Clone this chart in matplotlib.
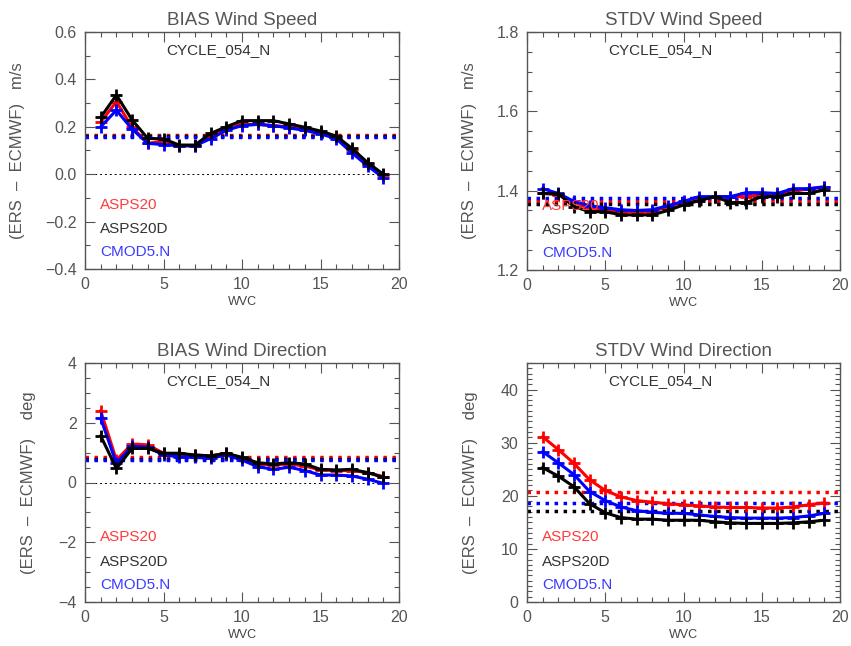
import matplotlib
matplotlib.use("Agg")
import matplotlib.pyplot as plt
from matplotlib.ticker import MultipleLocator

plt.rcParams['font.family'] = ['Liberation Sans', 'DejaVu Sans']

wvc = list(range(1, 20))
names = ["ASPS20", "ASPS20D", "CMOD5.N"]

# BIAS wind speed (m/s)
bias_spd_red = [0.22, 0.306, 0.198, 0.13, 0.14, 0.12, 0.12, 0.16, 0.19, 0.21, 0.21, 0.205,
                0.20, 0.19, 0.175, 0.155, 0.10, 0.045, -0.005]
bias_spd_blk = [0.24, 0.334, 0.229, 0.151, 0.149, 0.123, 0.123, 0.172, 0.20, 0.226, 0.226, 0.226,
                0.212, 0.198, 0.182, 0.161, 0.109, 0.049, 0.0]
bias_spd_blu = [0.20, 0.27, 0.19, 0.13, 0.125, 0.12, 0.12, 0.15, 0.185, 0.205, 0.21, 0.205,
                0.195, 0.185, 0.17, 0.15, 0.09, 0.035, -0.015]
bias_spd_mean = [0.165, 0.16, 0.158]

# STDV wind speed (m/s)
stdv_spd_red = [1.393, 1.39, 1.37, 1.355, 1.35, 1.347, 1.347, 1.347, 1.36, 1.37, 1.378, 1.385,
                1.385, 1.385, 1.39, 1.39, 1.398, 1.405, 1.408]
stdv_spd_blk = [1.393, 1.392, 1.36, 1.347, 1.347, 1.339, 1.339, 1.339, 1.35, 1.364, 1.375, 1.385,
                1.37, 1.37, 1.385, 1.385, 1.393, 1.393, 1.402]
stdv_spd_blu = [1.405, 1.393, 1.373, 1.362, 1.357, 1.352, 1.35, 1.352, 1.362, 1.373, 1.385, 1.385,
                1.385, 1.395, 1.395, 1.393, 1.405, 1.405, 1.41]
stdv_spd_mean = [1.373, 1.367, 1.381]

# BIAS wind direction (deg)
bias_dir_red = [2.4, 0.75, 1.29, 1.26, 0.98, 0.92, 0.92, 0.89, 0.98, 0.81, 0.62, 0.59,
                0.62, 0.55, 0.42, 0.40, 0.40, 0.33, 0.20]
bias_dir_blk = [1.56, 0.47, 1.14, 1.14, 0.98, 0.98, 0.92, 0.89, 0.98, 0.84, 0.66, 0.62,
                0.66, 0.62, 0.44, 0.42, 0.44, 0.33, 0.17]
bias_dir_blu = [2.15, 0.64, 1.22, 1.18, 0.92, 0.86, 0.84, 0.81, 0.92, 0.75, 0.53, 0.44,
                0.51, 0.40, 0.25, 0.25, 0.22, 0.11, -0.03]
bias_dir_mean = [0.85, 0.79, 0.74]

# STDV wind direction (deg)
stdv_dir_red = [31.1, 28.7, 26.1, 23.0, 21.0, 19.8, 19.1, 18.8, 18.5, 18.3, 18.1, 17.9,
                17.8, 17.8, 17.7, 17.7, 17.9, 18.3, 18.7]
stdv_dir_blk = [25.3, 23.7, 21.7, 18.5, 16.8, 15.9, 15.6, 15.6, 15.4, 15.4, 15.4, 15.1,
                14.9, 14.8, 14.8, 14.8, 14.9, 15.1, 15.4]
stdv_dir_blu = [28.3, 26.2, 24.0, 20.8, 19.1, 17.9, 17.2, 16.9, 16.7, 16.7, 16.4, 16.1,
                15.9, 15.8, 15.8, 15.8, 15.9, 16.2, 16.7]
stdv_dir_mean = [20.7, 17.2, 18.7]

line_cols = ["#ff0000", "#000000", "#0000ff"]
text_cols = ["#ff3b3b", "#333333", "#3b3bff"]
grey = "#555555"

fig = plt.figure(figsize=(8.51, 6.46), dpi=100)

panels = [
    ([85/851, 1-269/646, 314/851, 237/646], "BIAS Wind Speed", "(ERS  \u2013  ECMWF)   m/s",
     (bias_spd_red, bias_spd_blk, bias_spd_blu), bias_spd_mean, (-0.4, 0.6), 0.2, 0.1, "%.1f", -0.19, True),
    ([527/851, 1-270/646, 313/851, 238/646], "STDV Wind Speed", "(ERS  \u2013  ECMWF)   m/s",
     (stdv_spd_red, stdv_spd_blk, stdv_spd_blu), stdv_spd_mean, (1.2, 1.8), 0.2, 0.05, "%.1f", -0.16, False),
    ([85/851, 1-602/646, 314/851, 239/646], "BIAS Wind Direction", "(ERS  \u2013  ECMWF)    deg",
     (bias_dir_red, bias_dir_blk, bias_dir_blu), bias_dir_mean, (-4, 4), 2, 0.5, "%d", -0.155, True),
    ([527/851, 1-602/646, 313/851, 239/646], "STDV Wind Direction", "(ERS  \u2013  ECMWF)    deg",
     (stdv_dir_red, stdv_dir_blk, stdv_dir_blu), stdv_dir_mean, (0, 45), 10, 1, "%d", -0.155, False),
]

for rect, title, ylab, series, means, ylim, major, minor, fmt, labx, zero in panels:
    ax = fig.add_axes(rect)
    if zero:
        ax.axhline(0, color="black", lw=0.7, ls=(0, (2, 3)), zorder=1)
    for m, c in zip(means, line_cols):
        ax.axhline(m, color=c, lw=2.5, ls=(0, (1, 1.6)), zorder=2)
    for i in [0, 2, 1]:
        ax.plot(wvc, series[i], color=line_cols[i], lw=2.2, marker="+", ms=8.5, mew=2.0, zorder=3)
    ax.set_xlim(0, 20)
    ax.set_ylim(*ylim)
    ax.xaxis.set_major_locator(MultipleLocator(5))
    ax.xaxis.set_minor_locator(MultipleLocator(1))
    ax.yaxis.set_major_locator(MultipleLocator(major))
    ax.yaxis.set_minor_locator(MultipleLocator(minor))
    ax.yaxis.set_major_formatter(lambda v, p, f=fmt: (f % v).replace("-", "\u2212"))
    ax.tick_params(which="both", direction="in", top=True, right=True, colors=grey,
                   labelcolor="#555555", labelsize=11.5, width=0.8)
    ax.tick_params(which="major", length=7, pad=6)
    ax.tick_params(which="minor", length=3.5)
    for s in ax.spines.values():
        s.set_color(grey)
        s.set_linewidth(1)
    ax.set_title(title, fontsize=13.5, color="#555555", pad=5)
    ax.set_xlabel("WVC", fontsize=9, color="#444444", labelpad=3)
    ax.set_ylabel(ylab, fontsize=12, color="#555555")
    ax.yaxis.set_label_coords(labx, 0.5)
    ax.text(0.425, 0.925, "CYCLE_054_N", transform=ax.transAxes, ha="center", va="center",
            fontsize=11, color="#333333")
    for name, c, yy in zip(names, text_cols, [0.27, 0.169, 0.07]):
        ax.text(0.048, yy, name, transform=ax.transAxes, ha="left", va="center",
                fontsize=11, color=c)

fig.savefig("out.png", dpi=100)
